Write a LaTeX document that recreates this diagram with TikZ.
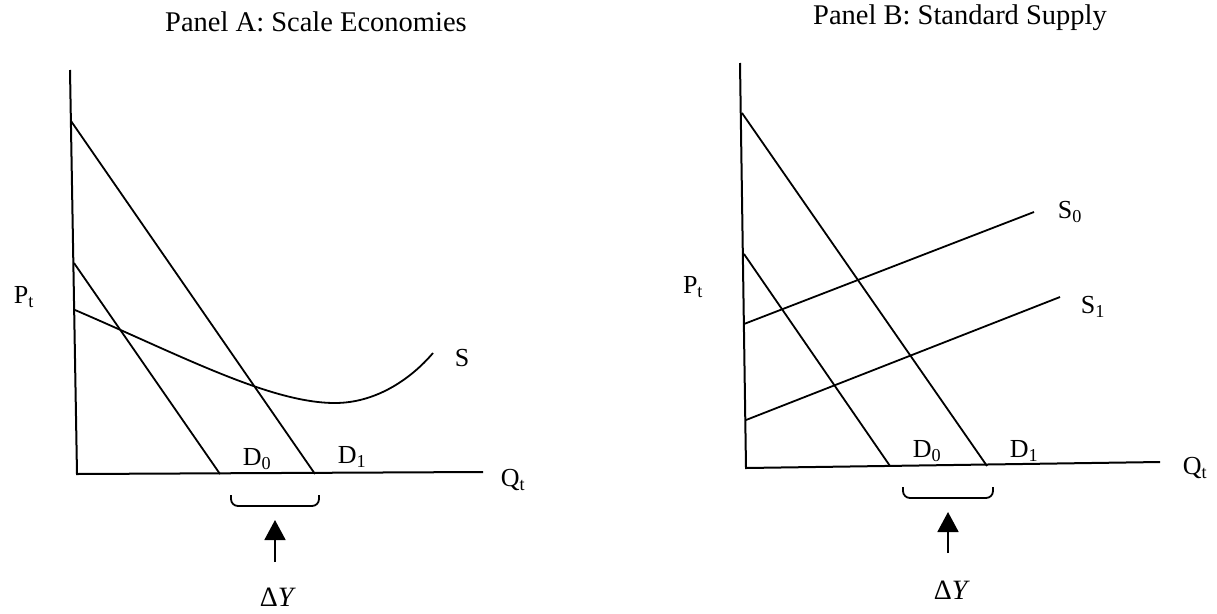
\documentclass[tikz,border=0pt]{standalone}
\usepackage{fontspec}
\setmainfont{Liberation Serif}
\usetikzlibrary{arrows.meta}
\tikzset{
  axisline/.style={line width=2pt, draw=black},
  curve/.style={line width=1.8pt, draw=black},
  lbl/.style={font=\fontsize{26}{28}\selectfont, inner sep=0pt},
  biglbl/.style={font=\fontsize{28}{30}\selectfont, inner sep=0pt},
  paneltitle/.style={font=\fontsize{28.5}{31}\selectfont, inner sep=0pt},
  shiftarrow/.style={-{Triangle[length=20pt,width=21pt]}, line width=1.8pt},
  bracket/.style={line width=1.8pt, rounded corners=7pt}
}
\begin{document}
\begin{tikzpicture}[x=1pt,y=-1pt]
  \useasboundingbox (0,0) rectangle (1217,613);

  % Panel A
  \node[paneltitle] (titleA) at (316,22) {Panel A: Scale Economies};
  \draw[axisline] (70,70) -- (77,474) -- (483,472);
  \draw[curve] (71,121) -- (315,474);
  \draw[curve] (74,263) -- (220,474);
  \draw[curve] (75,310) .. controls (180,355) and (270,403) .. (335,403)
                        .. controls (375,403) and (410,380) .. (433,353);
  \node[lbl] (pA) at (24,297) {P\textsubscript{t}};
  \node[lbl] (sA) at (462,358) {S};
  \node[lbl] (d0A) at (257,459) {D\textsubscript{0}};
  \node[lbl] (d1A) at (352,457) {D\textsubscript{1}};
  \node[lbl] (qA) at (513,480) {Q\textsubscript{t}};
  \draw[bracket] (231,495) -- (231,506) -- (319,506) -- (319,495);
  \coordinate (tailA) at (275,562);
  \coordinate (tipA) at (275,520);
  \draw[shiftarrow] (tailA) -- (tipA);
  \node[biglbl] (dyA) at (278,597) {Δ\textit{Y}};

  % Panel B
  \node[paneltitle] (titleB) at (960,18) {Panel B: Standard Supply};
  \draw[axisline] (740,63) -- (746,468) -- (1160,462);
  \draw[curve] (742,113) -- (987,466);
  \draw[curve] (744,254) -- (890,466);
  \draw[curve] (744,324) -- (1034,212);
  \draw[curve] (746,420) -- (1060,297);
  \node[lbl] (pB) at (693,287) {P\textsubscript{t}};
  \node[lbl] (s0B) at (1070,212) {S\textsubscript{0}};
  \node[lbl] (s1B) at (1093,307) {S\textsubscript{1}};
  \node[lbl] (d0B) at (927,451) {D\textsubscript{0}};
  \node[lbl] (d1B) at (1024,451) {D\textsubscript{1}};
  \node[lbl] (qB) at (1195,468) {Q\textsubscript{t}};
  \draw[bracket] (903,487) -- (903,498) -- (993,498) -- (993,487);
  \coordinate (tailB) at (948,553);
  \coordinate (tipB) at (948,512);
  \draw[shiftarrow] (tailB) -- (tipB);
  \node[biglbl] (dyB) at (952,590) {Δ\textit{Y}};
\end{tikzpicture}
\end{document}
